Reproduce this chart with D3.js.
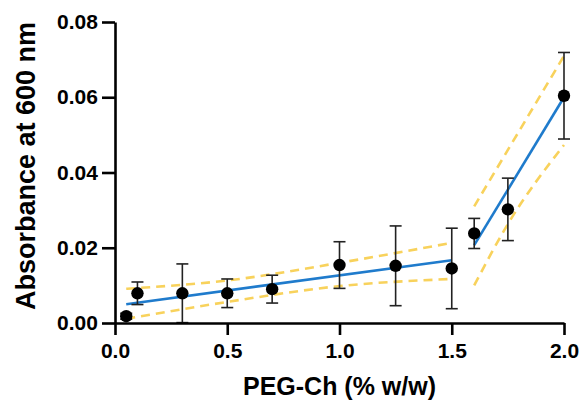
<!DOCTYPE html>
<html>
<head>
<meta charset="utf-8">
<script src="https://cdn.jsdelivr.net/npm/d3@7"></script>
<style>
  body { margin: 0; background: #fff; }
  text { font-family: "Liberation Sans", Arial, sans-serif; font-weight: bold; }
</style>
</head>
<body>
<div id="chart"></div>
<script>
// measured points (mean +- sd)
const conc = [0.05, 0.1, 0.3, 0.5, 0.7, 1.0, 1.25, 1.5, 1.6, 1.75, 2.0];
const absorb = [0.0018, 0.0079, 0.0079, 0.0079, 0.0090, 0.0154, 0.0152, 0.0145, 0.0238, 0.0302, 0.0604];
const errs = [0.0008, 0.0030, 0.0078, 0.0038, 0.0037, 0.0062, 0.0106, 0.0107, 0.0040, 0.0083, 0.0115];

// linear fits, two regions
const fitLowX = [0.05, 1.5];
const fitLowY = [0.0050, 0.0167];
const fitHighX = [1.6, 2.0];
const fitHighY = [0.0207, 0.0600];

// confidence bands
const bandLowX = [0.05, 0.5, 1.0, 1.5];
const bandLowUpper = [0.0091, 0.0113, 0.0160, 0.0213];
const bandLowLower = [0.0011, 0.0056, 0.0098, 0.0117];
const bandHighX = [1.6, 1.75, 2.0];
const bandHighUpper = [0.0310, 0.0460, 0.0710];
const bandHighLower = [0.0100, 0.0263, 0.0473];

const xTicks = [0, 0.5, 1.0, 1.5, 2.0];
const yTicks = [0, 0.02, 0.04, 0.06, 0.08];

const width = 581;
const height = 402;
const margin = { top: 22, right: 17, bottom: 79, left: 115 };

const svg = d3.select('#chart')
  .append('svg')
  .attr('width', width)
  .attr('height', height);

const x = d3.scaleLinear()
  .domain([0, 2])
  .range([margin.left, width - margin.right]);

const y = d3.scaleLinear()
  .domain([0, 0.08])
  .range([height - margin.bottom, margin.top]);

const line = d3.line()
  .x(d => x(d[0]))
  .y(d => y(d[1]));

const curve = d3.line()
  .x(d => x(d[0]))
  .y(d => y(d[1]))
  .curve(d3.curveMonotoneX);

// bands
const bands = [
  [bandLowX, bandLowUpper], [bandLowX, bandLowLower],
  [bandHighX, bandHighUpper], [bandHighX, bandHighLower]
];
bands.forEach(([bx, by]) => {
  svg.append('path')
    .datum(bx.map((v, i) => [v, by[i]]))
    .attr('d', curve)
    .attr('fill', 'none')
    .attr('stroke', '#f8d25c')
    .attr('stroke-width', 2.6)
    .attr('stroke-dasharray', '9,6');
});

// fits
[[fitLowX, fitLowY], [fitHighX, fitHighY]].forEach(([fx, fy]) => {
  svg.append('path')
    .datum(fx.map((v, i) => [v, fy[i]]))
    .attr('d', line)
    .attr('fill', 'none')
    .attr('stroke', '#1f7bcc')
    .attr('stroke-width', 2.6);
});

// error bars
const pts = conc.map((c, i) => ({ c, a: absorb[i], e: errs[i] }));
const eb = svg.append('g')
  .attr('stroke', '#222')
  .attr('stroke-width', 1.6);

eb.selectAll('line.v')
  .data(pts)
  .join('line')
  .attr('x1', d => x(d.c))
  .attr('x2', d => x(d.c))
  .attr('y1', d => y(d.a + d.e))
  .attr('y2', d => y(d.a - d.e));

const capW = 6;
['top', 'bot'].forEach(k => {
  eb.selectAll('line.' + k)
    .data(pts)
    .join('line')
    .attr('class', k)
    .attr('x1', d => x(d.c) - capW)
    .attr('x2', d => x(d.c) + capW)
    .attr('y1', d => y(k === 'top' ? d.a + d.e : d.a - d.e))
    .attr('y2', d => y(k === 'top' ? d.a + d.e : d.a - d.e));
});

// axes
const xAxis = g => g
  .attr('transform', `translate(0,${height - margin.bottom})`)
  .call(d3.axisBottom(x).tickValues(xTicks).tickFormat(d3.format('.1f')).tickSize(12).tickSizeOuter(0))
  .call(g => g.select('.domain').attr('stroke-width', 2.6))
  .call(g => g.selectAll('.tick line').attr('stroke-width', 2.6))
  .call(g => g.selectAll('.tick text').attr('font-size', 21).attr('dy', '0.95em').attr('fill', '#000'));

const yAxis = g => g
  .attr('transform', `translate(${margin.left},0)`)
  .call(d3.axisLeft(y).tickValues(yTicks).tickFormat(d3.format('.2f')).tickSize(13).tickSizeOuter(0))
  .call(g => g.select('.domain').attr('stroke-width', 2.6))
  .call(g => g.selectAll('.tick line').attr('stroke-width', 2.6))
  .call(g => g.selectAll('.tick text').attr('font-size', 21).attr('dx', '-0.05em').attr('fill', '#000'));

svg.append('g').call(xAxis);
svg.append('g').call(yAxis);

// dots on top
svg.append('g')
  .selectAll('circle')
  .data(pts)
  .join('circle')
  .attr('cx', d => x(d.c))
  .attr('cy', d => y(d.a))
  .attr('r', 6.2)
  .attr('fill', '#000');

// titles
svg.append('text')
  .attr('x', (margin.left + width - margin.right) / 2)
  .attr('y', 395)
  .attr('text-anchor', 'middle')
  .attr('font-size', 25)
  .text('PEG-Ch (% w/w)');

svg.append('text')
  .attr('transform', `translate(35,${166}) rotate(-90)`)
  .attr('text-anchor', 'middle')
  .attr('font-size', 27)
  .text('Absorbance at 600 nm');
</script>
</body>
</html>
